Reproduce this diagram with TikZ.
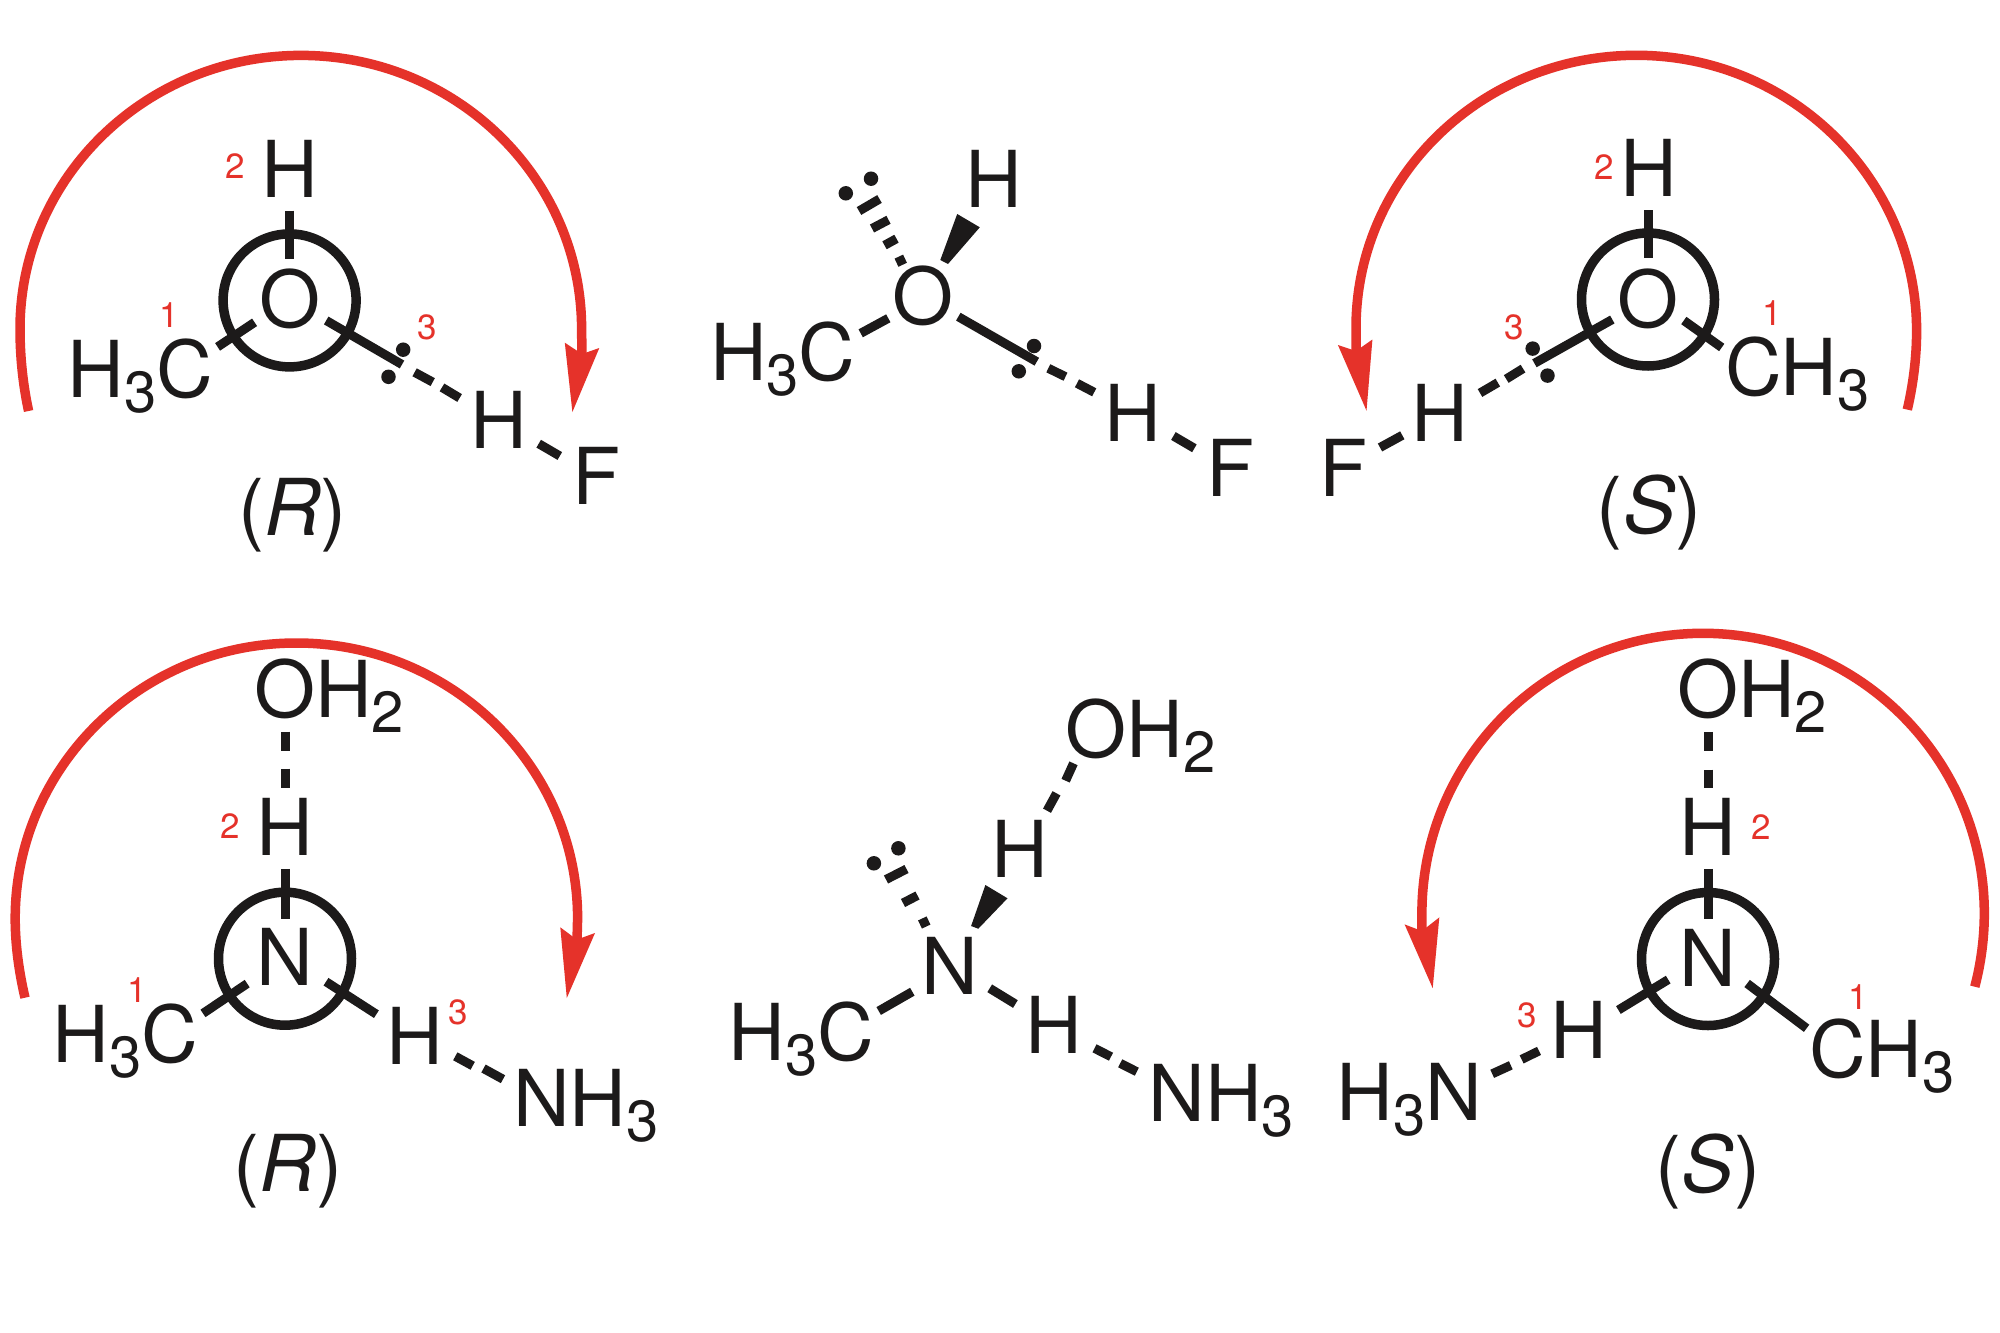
\documentclass[tikz,border=0pt]{standalone}
\usepackage{fontspec}
\setmainfont{TeX Gyre Heros}
\definecolor{chem}{HTML}{1C1A1A}
\definecolor{arrowred}{HTML}{E5322A}
\newcommand\atomfont{\fontsize{78.5}{78.5}\selectfont}
\newcommand\subnum[1]{\raisebox{-15pt}{\fontsize{58}{58}\selectfont #1}}
\tikzset{
  x=1pt,y=-1pt,
  atomtext/.style={inner sep=0pt,outer sep=0pt,text=chem,font=\atomfont,anchor=base},
  atomleft/.style={atomtext,anchor=base west},
  ranknum/.style={inner sep=0pt,outer sep=0pt,text=arrowred,font=\fontsize{35}{35}\selectfont,anchor=center},
  bondline/.style={draw=chem,line width=9pt,line cap=butt},
  ringline/.style={draw=chem,line width=9.5pt},
  lonedot/.style={circle,fill=chem,inner sep=0pt,minimum size=14.5pt},
  arcline/.style={draw=arrowred,line width=9.5pt,line cap=butt},
  archead/.style={fill=arrowred,draw=none},
}
\newcommand\bond[3]{\coordinate (#1s) at (#2);\coordinate (#1e) at (#3);\draw[bondline] (#1s) -- (#1e);}
\newcommand\ring[2]{\node[circle,ringline,inner sep=0pt,outer sep=0pt,minimum size=133pt] (#1) at (#2) {};}
\begin{document}
\begin{tikzpicture}
\useasboundingbox[fill=white] (0,0) rectangle (2000,1333);

% ---------- Panel A: top left (R)
\ring{ringA}{289.6,300.4}
\node[atomtext] (A-H2) at (289.6,197) {H};
\node[atomtext] (A-O) at (289.6,327.5) {O};
\node[atomleft] (A-Me) at (67.6,397) {H\subnum{3}C};
\node[atomtext] (A-H3) at (499,448.3) {H};
\node[atomleft] (A-F) at (572.7,504) {F};
\node[atomtext] (A-lab) at (292.5,535.3) {(\textit{R})};
\node[ranknum] (A-n2) at (235.7,165.6) {2};
\node[ranknum] (A-n1) at (169.6,315) {1};
\node[ranknum] (A-n3) at (427,327.5) {3};
\bond{A1}{289.6,210.6}{289.6,258.9}
\bond{A2}{217.6,346.9}{254.6,322.3}
\bond{A3}{326.2,320.5}{402,364.5}
\bond{A4}{414.6,372.3}{432.7,382.1}
\bond{A5}{442,387.4}{459.6,398}
\bond{A6}{538.7,443.7}{559.8,456}
\node[lonedot] (A-d1) at (403.2,349.7) {};
\node[lonedot] (A-d2) at (388.5,376.8) {};
\coordinate (Aas) at (28.6,411);
\coordinate (Aal) at (20,329);
\coordinate (Aat) at (301,55.4);
\coordinate (Aar) at (581.6,329);
\coordinate (Aan) at (582,356);
\draw[arcline] (Aas) .. controls (23,385) and (20,357) .. (Aal) .. controls (20,178) and (146,55.4) .. (Aat) .. controls (456,55.4) and (581.6,178) .. (Aar) -- (Aan);
\fill[archead] (572.4,412) -- (564.8,342.7) -- (582,354) -- (599.3,348) -- cycle;

% ---------- Panel B: top middle
\node[atomtext] (B-H2) at (993.5,207.3) {H};
\node[atomtext] (B-O) at (922.7,324) {O};
\node[atomleft] (B-Me) at (710,380.7) {H\subnum{3}C};
\node[atomtext] (B-H3) at (1133.2,441) {H};
\node[atomleft] (B-F) at (1206.8,496.7) {F};
\bond{B1}{860.7,333.3}{888.3,318.3}
\bond{B2}{958.3,316.7}{1036.8,361.7}
\bond{B3}{1048.3,368.3}{1065.5,376.7}
\bond{B4}{1077,383.3}{1094.2,392.3}
\bond{B5}{1173.4,436}{1194.4,448.3}
\bond{Bh1}{896.5,262.7}{905,258.7}
\bond{Bh2}{884.5,245.3}{896.5,238.7}
\bond{Bh3}{872,228.5}{888.5,219.8}
\bond{Bh4}{859,211}{879.5,199}
\fill[chem] (940.3,260) -- (948,264) -- (979.8,227.3) -- (957.2,214) -- cycle;
\node[lonedot] (B-d1) at (845.8,193.3) {};
\node[lonedot] (B-d2) at (871,178.7) {};
\node[lonedot] (B-d3) at (1034,346) {};
\node[lonedot] (B-d4) at (1018.8,371.3) {};

% ---------- Panel C: top right (S)
\ring{ringC}{1648,299.5}
\node[atomtext] (C-H2) at (1648.5,196.7) {H};
\node[atomtext] (C-O) at (1648,327.5) {O};
\node[atomleft] (C-Me) at (1725,395.6) {CH\subnum{3}};
\node[atomtext] (C-H3) at (1440,441) {H};
\node[atomleft] (C-F) at (1319.3,496.7) {F};
\node[atomtext] (C-lab) at (1649.3,533.5) {(\textit{S})};
\node[ranknum] (C-n2) at (1603.9,167.5) {2};
\node[ranknum] (C-n1) at (1772.2,313.5) {1};
\node[ranknum] (C-n3) at (1514.6,327.5) {3};
\bond{C1}{1648,210}{1648,258}
\bond{C2}{1683.8,320.5}{1721.7,347.5}
\bond{C3}{1612.3,319.5}{1534.4,363.3}
\bond{C4}{1523,368.6}{1506.2,379}
\bond{C5}{1497.8,382.6}{1480,393}
\bond{C6}{1402.3,435.3}{1380,447.5}
\node[lonedot] (C-d1) at (1532.7,348.6) {};
\node[lonedot] (C-d2) at (1547.5,375.6) {};
\coordinate (Cas) at (1907.3,409.6);
\coordinate (Car) at (1916.6,331);
\coordinate (Cat) at (1636.5,55.3);
\coordinate (Cal) at (1356,328);
\coordinate (Can) at (1356,353);
\draw[arcline] (Cas) .. controls (1913,385) and (1916.6,358) .. (Car) .. controls (1916.6,179) and (1791,55.3) .. (Cat) .. controls (1482,55.3) and (1356,177) .. (Cal) -- (Can);
\fill[archead] (1366.5,410.7) -- (1337.9,345) -- (1356,351) -- (1372.4,339.5) -- cycle;

% ---------- Panel D: bottom left (R)
\ring{ringD}{285,958.7}
\node[atomleft] (D-W) at (254,717.6) {OH\subnum{2}};
\node[atomtext] (D-H2) at (285,855.4) {H};
\node[atomtext] (D-N) at (285,985.5) {N};
\node[atomleft] (D-Me) at (52.5,1062.8) {H\subnum{3}C};
\node[atomtext] (D-H3) at (415,1064.7) {H};
\node[atomleft] (D-A) at (513,1126) {NH\subnum{3}};
\node[atomtext] (D-lab) at (288,1191.4) {(\textit{R})};
\node[ranknum] (D-n2) at (230.7,825.9) {2};
\node[ranknum] (D-n1) at (137.5,990) {1};
\node[ranknum] (D-n3) at (458.4,1012.3) {3};
\bond{D1}{285,731.7}{285,751.3}
\bond{D2}{285,768.5}{285,788.4}
\bond{D3}{285,868.8}{285,918.5}
\bond{D4}{203,1013.4}{247.2,983.6}
\bond{D5}{326,981.7}{376.4,1014.2}
\bond{D6}{455.3,1056.3}{472.7,1065.8}
\bond{D7}{483.5,1068.5}{503,1079.2}
\coordinate (Das) at (25,997.7);
\coordinate (Dal) at (15.2,918.5);
\coordinate (Dat) at (296.4,643);
\coordinate (Dar) at (577.6,918.5);
\coordinate (Dan) at (577,941);
\draw[arcline] (Das) .. controls (19,972) and (15.2,945) .. (Dal) .. controls (15.2,766.5) and (141.4,643) .. (Dat) .. controls (451.4,643) and (577.6,766.5) .. (Dar) -- (Dan);
\fill[archead] (566.8,998) -- (560.3,927.3) -- (576.8,939.6) -- (595,933) -- cycle;

% ---------- Panel E: bottom middle
\node[atomleft] (E-W) at (1065.6,757.3) {OH\subnum{2}};
\node[atomtext] (E-H2) at (1020,877.7) {H};
\node[atomtext] (E-N) at (949.8,994.3) {N};
\node[atomleft] (E-Me) at (728.8,1060) {H\subnum{3}C};
\node[atomtext] (E-H3) at (1053.8,1053.3) {H};
\node[atomleft] (E-A) at (1148.5,1121.7) {NH\subnum{3}};
\bond{E1}{1073.5,763.3}{1065.6,780.7}
\bond{E2}{1056.5,793.3}{1047,810.7}
\bond{E3}{878.7,1011}{912.3,991.7}
\bond{E4}{989.7,988.3}{1015.4,1004}
\bond{E5}{1094.5,1048.3}{1111,1056.7}
\bond{E6}{1120.2,1063.3}{1136.8,1071.7}
\bond{Eh1}{886,879.5}{906.5,869}
\bond{Eh2}{903,903}{917.5,895.5}
\bond{Eh3}{920,924.5}{928.5,920.5}
\fill[chem] (971.1,926) -- (978.3,928.7) -- (1007.5,898.3) -- (985.4,885) -- cycle;
\node[lonedot] (E-d1) at (873.9,863.3) {};
\node[lonedot] (E-d2) at (898.4,848.3) {};

% ---------- Panel F: bottom right (S)
\ring{ringF}{1708,959}
\node[atomleft] (F-W) at (1677,717.8) {OH\subnum{2}};
\node[atomtext] (F-H2) at (1708,855.9) {H};
\node[atomtext] (F-N) at (1708,986.3) {N};
\node[atomleft] (F-Me) at (1809.5,1077) {CH\subnum{3}};
\node[atomtext] (F-H3) at (1578.9,1058.3) {H};
\node[atomleft] (F-A) at (1336.5,1120.5) {H\subnum{3}N};
\node[atomtext] (F-lab) at (1708,1192.5) {(\textit{S})};
\node[ranknum] (F-n2) at (1761.5,827) {2};
\node[ranknum] (F-n1) at (1858.2,997) {1};
\node[ranknum] (F-n3) at (1526.9,1015.5) {3};
\bond{F1}{1708,731.8}{1708,750.9}
\bond{F2}{1708,769.5}{1708,788.2}
\bond{F3}{1708,868.8}{1708,918.6}
\bond{F4}{1618.4,1010}{1668.2,979.6}
\bond{F5}{1747.1,983.5}{1806.6,1028.3}
\bond{F6}{1539,1050.9}{1521.6,1059.4}
\bond{F7}{1510.8,1065.3}{1492.2,1073.8}
\coordinate (Fas) at (1974.8,986.7);
\coordinate (Far) at (1984.3,913.5);
\coordinate (Fat) at (1703,633.3);
\coordinate (Fal) at (1421.9,913.5);
\coordinate (Fan) at (1421.9,933);
\draw[arcline] (Fas) .. controls (1981,963) and (1984.3,938) .. (Far) .. controls (1984.3,758.5) and (1858,633.3) .. (Fat) .. controls (1548,633.3) and (1421.9,758.5) .. (Fal) -- (Fan);
\fill[archead] (1432.7,988.2) -- (1404.6,924.4) -- (1421.9,931) -- (1439.3,917.4) -- cycle;
\end{tikzpicture}
\end{document}
